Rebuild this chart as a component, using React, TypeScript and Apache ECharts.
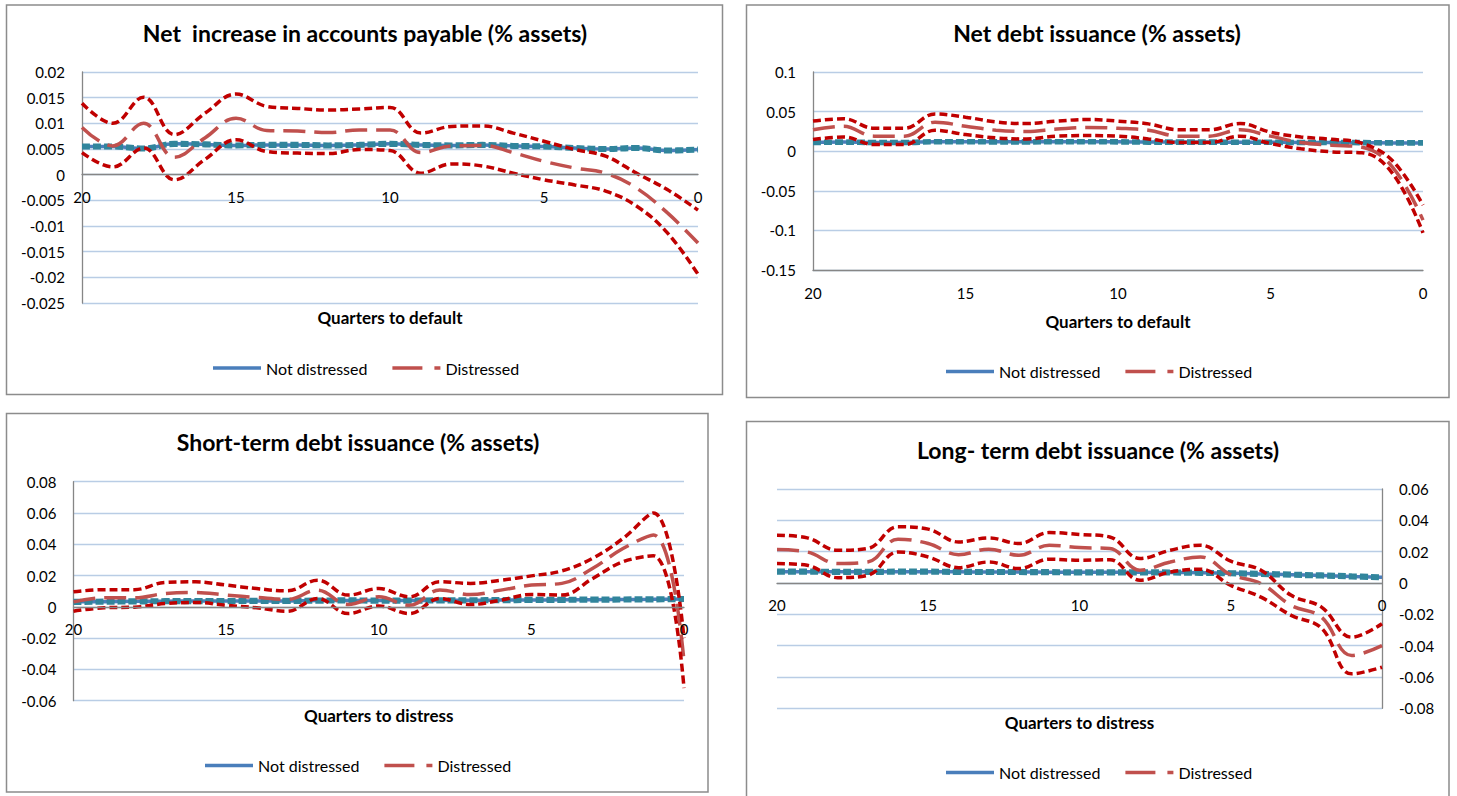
import React, { useEffect, useRef } from "react";
import * as echarts from "echarts";

// ---------- data ----------
const quarters = [20, 19, 18, 17, 16, 15, 14, 13, 12, 11, 10, 9, 8, 7, 6, 5, 4, 3, 2, 1, 0];

const titles = [
  "Net  increase in accounts payable (% assets)",
  "Net debt issuance (% assets)",
  "Short-term debt issuance (% assets)",
  "Long- term debt issuance (% assets)",
];
const xNames = ["Quarters to default", "Quarters to default", "Quarters to distress", "Quarters to distress"];
const legendNames = ["Not distressed", "Distressed"];

// Panel 1: net increase in accounts payable
const p1NotMean = [0.0055, 0.0055, 0.0051, 0.006, 0.0059, 0.0057, 0.0058, 0.0058, 0.0057, 0.0058, 0.006, 0.0058, 0.0057, 0.0058, 0.0056, 0.0055, 0.0052, 0.005, 0.0052, 0.0047, 0.0049];
const p1NotUpper = [0.0057, 0.0057, 0.0053, 0.0062, 0.0061, 0.0059, 0.006, 0.006, 0.0059, 0.006, 0.0062, 0.006, 0.0059, 0.006, 0.0058, 0.0057, 0.0054, 0.0052, 0.0054, 0.0049, 0.0051];
const p1NotLower = [0.0053, 0.0053, 0.0049, 0.0058, 0.0057, 0.0055, 0.0056, 0.0056, 0.0055, 0.0056, 0.0058, 0.0056, 0.0055, 0.0056, 0.0054, 0.0053, 0.005, 0.0048, 0.005, 0.0045, 0.0047];
const p1DisMean = [0.0092, 0.0056, 0.01, 0.0034, 0.0072, 0.011, 0.0086, 0.0085, 0.0082, 0.0087, 0.0087, 0.0043, 0.0056, 0.0057, 0.0043, 0.0026, 0.0013, 0.0003, -0.0026, -0.0074, -0.0133];
const p1DisUpper = [0.0139, 0.01, 0.0151, 0.0078, 0.012, 0.0157, 0.0133, 0.0129, 0.0126, 0.0128, 0.0131, 0.0081, 0.0094, 0.0095, 0.0081, 0.0065, 0.0049, 0.0036, 0.0003, -0.0029, -0.0069];
const p1DisLower = [0.0043, 0.0015, 0.0052, -0.001, 0.003, 0.0068, 0.0045, 0.0042, 0.0041, 0.0049, 0.0047, 0.0003, 0.0021, 0.0017, 0.0003, -0.001, -0.002, -0.0032, -0.0061, -0.0113, -0.0194];

// Panel 2: net debt issuance
const p2NotMean = [0.011, 0.0115, 0.011, 0.011, 0.012, 0.012, 0.0118, 0.0118, 0.012, 0.012, 0.0118, 0.0115, 0.0115, 0.0115, 0.0113, 0.0113, 0.011, 0.011, 0.0108, 0.0105, 0.0105];
const p2NotUpper = [0.012, 0.0125, 0.012, 0.012, 0.013, 0.013, 0.0128, 0.0128, 0.013, 0.013, 0.0128, 0.0125, 0.0125, 0.0125, 0.0123, 0.0123, 0.012, 0.012, 0.0118, 0.0115, 0.0115];
const p2NotLower = [0.01, 0.0105, 0.01, 0.01, 0.011, 0.011, 0.0108, 0.0108, 0.011, 0.011, 0.0108, 0.0105, 0.0105, 0.0105, 0.0103, 0.0103, 0.01, 0.01, 0.0098, 0.0095, 0.0095];
const p2DisMean = [0.027, 0.0315, 0.019, 0.019, 0.0366, 0.0315, 0.0265, 0.025, 0.028, 0.03, 0.029, 0.0265, 0.019, 0.019, 0.027, 0.019, 0.011, 0.0076, 0.005, -0.02, -0.087];
const p2DisUpper = [0.038, 0.041, 0.029, 0.029, 0.047, 0.043, 0.037, 0.035, 0.038, 0.04, 0.038, 0.0345, 0.027, 0.027, 0.035, 0.024, 0.018, 0.015, 0.01, -0.012, -0.068];
const p2DisLower = [0.0147, 0.018, 0.0084, 0.0084, 0.0265, 0.021, 0.0168, 0.0155, 0.019, 0.0197, 0.019, 0.0155, 0.011, 0.011, 0.019, 0.0097, 0.003, -0.0008, -0.002, -0.028, -0.103];

// Panel 3: short-term debt issuance
const p3NotMean = [0.0032, 0.0033, 0.0035, 0.0036, 0.0037, 0.0037, 0.0038, 0.0038, 0.004, 0.0041, 0.004, 0.004, 0.0041, 0.0042, 0.0043, 0.0044, 0.0045, 0.0046, 0.0047, 0.0048, 0.005];
const p3NotUpper = [0.0039, 0.004, 0.0042, 0.0043, 0.0044, 0.0044, 0.0045, 0.0045, 0.0047, 0.0048, 0.0047, 0.0047, 0.0048, 0.0049, 0.005, 0.0051, 0.0052, 0.0053, 0.0054, 0.0055, 0.0057];
const p3NotLower = [0.0025, 0.0026, 0.0028, 0.0029, 0.003, 0.003, 0.0031, 0.0031, 0.0033, 0.0034, 0.0033, 0.0033, 0.0034, 0.0035, 0.0036, 0.0037, 0.0038, 0.0039, 0.004, 0.0041, 0.0043];
const p3DisMean = [0.0032, 0.0058, 0.0058, 0.0085, 0.0092, 0.0075, 0.006, 0.0047, 0.0107, 0.0015, 0.0064, 0.001, 0.0107, 0.0079, 0.0107, 0.0139, 0.015, 0.0245, 0.0373, 0.046, -0.035];
const p3DisUpper = [0.0096, 0.011, 0.011, 0.0156, 0.016, 0.0139, 0.0117, 0.0102, 0.017, 0.0075, 0.0117, 0.0064, 0.016, 0.015, 0.017, 0.0198, 0.023, 0.031, 0.0437, 0.06, -0.02];
const p3DisLower = [-0.0028, -0.0006, -0.0002, 0.0021, 0.0028, 0.001, -0.0006, -0.0028, 0.0053, -0.0043, 0.0006, -0.0043, 0.0053, 0.0015, 0.0043, 0.0079, 0.0075, 0.018, 0.0288, 0.0326, -0.052];

// Panel 4: long-term debt issuance
const p4NotMean = [0.0072, 0.0072, 0.0071, 0.0071, 0.0072, 0.0072, 0.0071, 0.007, 0.007, 0.0069, 0.0068, 0.0068, 0.0068, 0.0067, 0.0065, 0.0062, 0.0058, 0.0053, 0.0048, 0.0042, 0.0036];
const p4NotUpper = [0.0079, 0.0079, 0.0078, 0.0078, 0.0079, 0.0079, 0.0078, 0.0077, 0.0077, 0.0076, 0.0075, 0.0075, 0.0075, 0.0074, 0.0072, 0.0069, 0.0065, 0.006, 0.0055, 0.0049, 0.0043];
const p4NotLower = [0.0065, 0.0065, 0.0064, 0.0064, 0.0065, 0.0065, 0.0064, 0.0063, 0.0063, 0.0062, 0.0061, 0.0061, 0.0061, 0.006, 0.0058, 0.0055, 0.0051, 0.0046, 0.0041, 0.0035, 0.0029];
const p4DisMean = [0.0213, 0.0198, 0.0124, 0.0134, 0.028, 0.0252, 0.0181, 0.0216, 0.0177, 0.0241, 0.0226, 0.022, 0.0081, 0.0134, 0.0166, 0.0053, -0.0004, -0.0143, -0.0218, -0.0463, -0.04];
const p4DisUpper = [0.0305, 0.0288, 0.0209, 0.022, 0.0359, 0.0344, 0.0262, 0.0288, 0.0252, 0.0322, 0.031, 0.0294, 0.0156, 0.0209, 0.0241, 0.0139, 0.0081, -0.0079, -0.0154, -0.0346, -0.026];
const p4DisLower = [0.0124, 0.0113, 0.0034, 0.0049, 0.0198, 0.0166, 0.0098, 0.0134, 0.0092, 0.0152, 0.0145, 0.0149, 0.0017, 0.007, 0.0088, -0.0015, -0.009, -0.0207, -0.0288, -0.058, -0.0538];

const yMins = [-0.025, -0.15, -0.06, -0.08];
const yMaxs = [0.02, 0.1, 0.08, 0.06];
const yIntervals = [0.005, 0.05, 0.02, 0.02];

const panelData = [
  [p1NotMean, p1NotUpper, p1NotLower, p1DisMean, p1DisUpper, p1DisLower],
  [p2NotMean, p2NotUpper, p2NotLower, p2DisMean, p2DisUpper, p2DisLower],
  [p3NotMean, p3NotUpper, p3NotLower, p3DisMean, p3DisUpper, p3DisLower],
  [p4NotMean, p4NotUpper, p4NotLower, p4DisMean, p4DisUpper, p4DisLower],
];

// ---------- layout / style ----------
const FONT = "Lato";
const BLUE = "#4a7ebb";
const TEAL = "#31859c";
const BROWN = "#c0504d";
const RED = "#c00000";
const GRIDC = "#b9cde5";
const AXISC = "#868686";

const grids = [
  { left: 82, top: 72, width: 616, height: 231 },
  { left: 813, top: 72, width: 610, height: 198 },
  { left: 73.5, top: 481.7, width: 610.5, height: 219 },
  { left: 777, top: 489, width: 605, height: 219.3 },
];
const boxes = [
  { x: 6.5, y: 5, w: 716, h: 389.5 },
  { x: 746.5, y: 5, w: 702.5, h: 392.5 },
  { x: 6.5, y: 413.5, w: 701.5, h: 378.5 },
  { x: 746.5, y: 421.5, w: 702.5, h: 380 },
];
const titlePos = [
  { x: 365, y: 21 },
  { x: 1097, y: 21 },
  { x: 358, y: 430 },
  { x: 1098, y: 438 },
];
const legendPos = [
  { x: 213, y: 360 },
  { x: 946, y: 363.5 },
  { x: 205, y: 757.5 },
  { x: 946, y: 764.5 },
];
const xAtZero = [true, false, true, true];
const yRight = [false, false, false, true];
const nameGaps = [6, 43, 6, 6];

const zip = (arr: number[]) => quarters.map((q, k) => [q, arr[k]]);

function buildOption() {
  const xAxis: any[] = [];
  const yAxis: any[] = [];
  const series: any[] = [];
  const title: any[] = [];
  const legend: any[] = [];

  for (let i = 0; i < 4; i++) {
    // distance from the grid bottom up to the y = 0 line (axis crosses at zero)
    const zeroOffset = xAtZero[i] ? -(grids[i].height * (0 - yMins[i])) / (yMaxs[i] - yMins[i]) : 0;
    xAxis.push({
      type: "value",
      gridIndex: i,
      min: 0,
      max: 20,
      interval: 5,
      inverse: true,
      position: "bottom",
      offset: zeroOffset,
      axisLine: { show: true, onZero: false, lineStyle: { color: AXISC, width: 1.3 } },
      axisTick: { show: false },
      axisLabel: { color: "#000", fontFamily: FONT, fontSize: 15, margin: 15 },
      splitLine: { show: false },
      z: 5,
    });
    xAxis.push({
      type: "value",
      gridIndex: i,
      min: 0,
      max: 20,
      inverse: true,
      position: "bottom",
      axisLine: { show: false, onZero: false },
      axisTick: { show: false },
      axisLabel: { show: false },
      splitLine: { show: false },
      name: xNames[i],
      nameLocation: "middle",
      nameGap: nameGaps[i],
      nameTextStyle: { color: "#000", fontFamily: FONT, fontSize: 17, fontWeight: "bold" },
    });
    yAxis.push({
      type: "value",
      gridIndex: i,
      min: yMins[i],
      max: yMaxs[i],
      interval: yIntervals[i],
      position: yRight[i] ? "right" : "left",
      axisLine: { show: true, onZero: false, lineStyle: { color: AXISC, width: 1.3 } },
      axisTick: { show: false },
      axisLabel: { color: "#000", fontFamily: FONT, fontSize: 15, margin: 17 },
      splitLine: { show: true, lineStyle: { color: GRIDC, width: 1.3 } },
    });

    const [nm, nu, nl, dm, du, dl] = panelData[i];
    const base = { type: "line", xAxisIndex: 2 * i, yAxisIndex: i, smooth: 0.4, symbol: "none", silent: true };
    series.push({ ...base, name: "Not distressed", data: zip(nm), itemStyle: { color: BLUE }, lineStyle: { color: BLUE, width: 3.5, type: "solid" } });
    series.push({ ...base, name: "Not distressed upper", data: zip(nu), itemStyle: { color: TEAL }, lineStyle: { color: TEAL, width: 4, type: [8, 3] } });
    series.push({ ...base, name: "Not distressed lower", data: zip(nl), itemStyle: { color: TEAL }, lineStyle: { color: TEAL, width: 4, type: [8, 3] } });
    series.push({ ...base, name: "Distressed", data: zip(dm), itemStyle: { color: BROWN }, lineStyle: { color: BROWN, width: 3.5, type: [22, 9] } });
    series.push({ ...base, name: "Distressed upper", data: zip(du), itemStyle: { color: RED }, lineStyle: { color: RED, width: 3.5, type: [8, 4] } });
    series.push({ ...base, name: "Distressed lower", data: zip(dl), itemStyle: { color: RED }, lineStyle: { color: RED, width: 3.5, type: [8, 4] } });

    title.push({
      text: titles[i],
      left: titlePos[i].x,
      top: titlePos[i].y,
      textAlign: "center",
      padding: 0,
      textStyle: { color: "#000", fontFamily: FONT, fontSize: 23, fontWeight: "bold" },
    });

    legend.push({
      left: legendPos[i].x,
      top: legendPos[i].y,
      padding: 0,
      orient: "horizontal",
      itemWidth: 48,
      itemHeight: 14,
      itemGap: 25,
      selectedMode: false,
      itemStyle: { borderWidth: 0 },
      textStyle: { color: "#000", fontFamily: FONT, fontSize: 16 },
      data: [
        { name: legendNames[0], icon: "path://M0,0H46V3.5H0Z" },
        { name: legendNames[1], icon: "path://M0,0H30V3.5H0Z M42,0H48V3.5H42Z" },
      ],
    });
  }

  const graphic = boxes.map((b) => ({
    type: "rect",
    silent: true,
    z: -10,
    shape: { x: b.x, y: b.y, width: b.w, height: b.h },
    style: { fill: "none", stroke: "#8c8c8c", lineWidth: 1.5 },
  }));

  return {
    animation: false,
    backgroundColor: "#ffffff",
    title,
    legend,
    grid: grids.map((g) => ({ ...g, containLabel: false })),
    xAxis,
    yAxis,
    series,
    graphic,
  };
}

export default function App() {
  const ref = useRef<HTMLDivElement>(null);
  useEffect(() => {
    if (!ref.current) return;
    const chart = echarts.init(ref.current, undefined, { renderer: "svg" });
    chart.setOption(buildOption() as any);
    return () => chart.dispose();
  }, []);
  return (
    <div
      ref={ref}
      style={{ position: "absolute", left: 0, top: 0, width: 1457, height: 796, background: "#fff" }}
    />
  );
}
